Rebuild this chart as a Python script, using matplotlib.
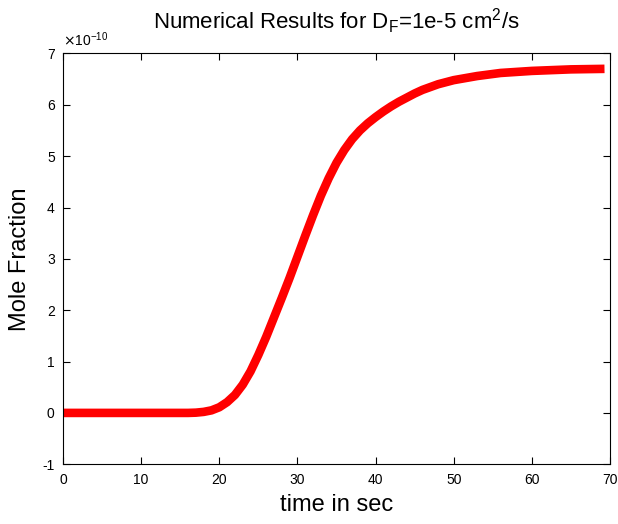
import numpy as np
import matplotlib
matplotlib.use("Agg")
import matplotlib.pyplot as plt

plt.rcParams['font.family'] = ['Liberation Sans', 'DejaVu Sans']
plt.rcParams['axes.unicode_minus'] = False

# time (s) and mole fraction (units of 1e-10)
t = [0, 5, 10, 15, 16, 17, 18, 19, 20, 21, 22, 23, 24, 25, 26, 27, 28, 29, 30,
     31, 32, 33, 34, 35, 36, 37, 38, 39, 40, 41, 42, 43, 44, 45, 46, 48, 50,
     53, 56, 60, 65, 69.3]
frac = [0, 0, 0, 0, 0.0, 0.005, 0.02, 0.05, 0.11, 0.21, 0.35, 0.55, 0.81,
        1.13, 1.48, 1.86, 2.24, 2.63, 3.04, 3.45, 3.85, 4.23, 4.57, 4.87,
        5.12, 5.33, 5.50, 5.64, 5.76, 5.87, 5.97, 6.06, 6.14, 6.22, 6.29,
        6.40, 6.48, 6.56, 6.62, 6.66, 6.69, 6.70]
xticks = [0, 10, 20, 30, 40, 50, 60, 70]
yticks = [-1, 0, 1, 2, 3, 4, 5, 6, 7]

fig = plt.figure(figsize=(6.18, 5.24), dpi=100)
ax = fig.add_axes([0.102, 0.114, 0.885, 0.784])
ax.plot(t, frac, color='red', lw=6.2, solid_capstyle='butt', solid_joinstyle='round')
ax.set_xlim(0, 70)
ax.set_ylim(-1, 7)
ax.set_xticks(xticks)
ax.set_yticks(yticks)
ax.tick_params(direction='in', top=True, right=True, length=5, labelsize=10, pad=6)

ax.set_title('Numerical Results for D$_\\mathregular{F}$=1e-5 cm$^\\mathregular{2}$/s',
             fontsize=16, pad=18)
ax.set_xlabel('time in sec', fontsize=17, labelpad=5)
ax.set_ylabel('Mole Fraction', fontsize=17, labelpad=8)
ax.text(0.0, 1.012, '$\\times$10$^{\\mathregular{-10}}$', transform=ax.transAxes,
        fontsize=10, ha='left', va='bottom')

fig.savefig('out.png', dpi=100)
